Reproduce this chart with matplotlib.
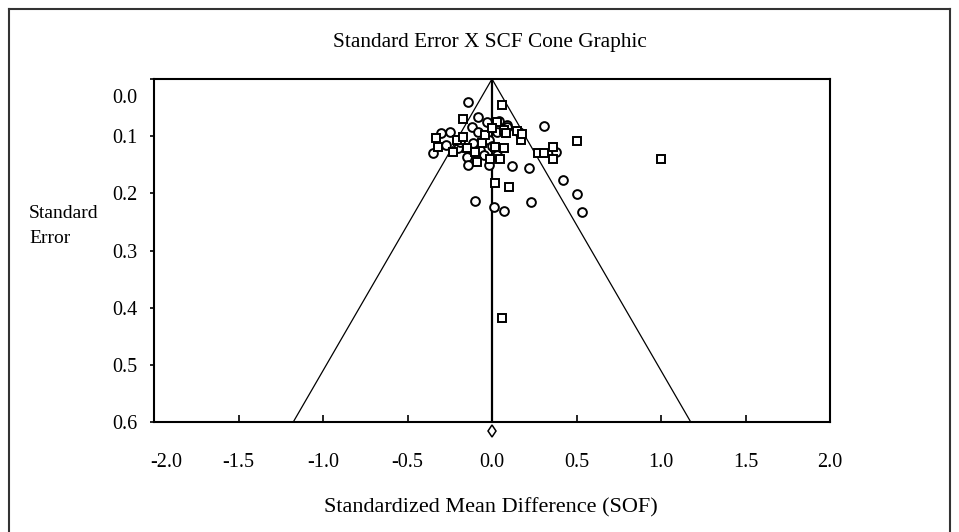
import matplotlib
matplotlib.use("Agg")
import matplotlib.pyplot as plt
from matplotlib.lines import Line2D
from matplotlib.transforms import ScaledTranslation
import numpy as np

plt.rcParams['font.family'] = ['Liberation Serif', 'DejaVu Serif']

title = "Standard Error X SCF Cone Graphic"
xlabel = "Standardized Mean Difference (SOF)"
ylabel = "Standard\nError"

# studies drawn as open circles (effect size, standard error)
circle_smd = [-0.14, -0.08, -0.03, 0.04, 0.09, 0.31, -0.30, -0.25, -0.12, -0.08,
              -0.11, -0.02, -0.27, -0.35, 0.03, 0.09, 0.16, 0.03, 0.38, -0.13,
              -0.15, -0.14, -0.02, 0.12, 0.22, 0.42, 0.50, -0.10, 0.01, 0.07,
              0.23, 0.53, -0.07, -0.05, -0.20, -0.19, 0.00]
circle_se = [0.040, 0.066, 0.075, 0.073, 0.080, 0.082, 0.094, 0.093, 0.084, 0.093,
             0.112, 0.107, 0.115, 0.129, 0.093, 0.084, 0.093, 0.133, 0.128, 0.138,
             0.136, 0.150, 0.150, 0.152, 0.156, 0.177, 0.201, 0.213, 0.224, 0.231,
             0.215, 0.233, 0.124, 0.133, 0.120, 0.110, 0.118]

# studies drawn as open squares (effect size, standard error)
square_smd = [0.06, -0.17, 0.07, 0.03, 0.50, 0.15, 0.17, -0.33, -0.21, -0.17,
              -0.04, -0.06, -0.32, -0.23, 0.08, 0.02, 0.07, 0.27, 0.31, 0.36,
              0.36, -0.09, 0.05, 0.02, 0.10, 0.06, 1.00, -0.15, 0.00, 0.18,
              -0.10, -0.01]
square_se = [0.045, 0.070, 0.089, 0.075, 0.108, 0.091, 0.107, 0.103, 0.107, 0.101,
             0.098, 0.112, 0.119, 0.128, 0.094, 0.119, 0.121, 0.129, 0.129, 0.119,
             0.140, 0.145, 0.140, 0.182, 0.189, 0.418, 0.140, 0.120, 0.086, 0.096,
             0.128, 0.140]

pooled_smd = [0.0]
pooled_se = [0.615]

cone_se = [0.0, 0.6]
z_crit = 1.96

xticks = [-2.0, -1.5, -1.0, -0.5, 0.0, 0.5, 1.0, 1.5, 2.0]
yticks = [0.0, 0.1, 0.2, 0.3, 0.4, 0.5, 0.6]

W, H = 959, 532
fig = plt.figure(figsize=(W / 100, H / 100), dpi=100)
ax = fig.add_axes([154 / W, 1 - 422 / H, (830 - 154) / W, (422 - 79) / H])

# cone
se_arr = np.array(cone_se)
ax.plot(-z_crit * se_arr, se_arr, color='black', lw=0.9)
ax.plot(z_crit * se_arr, se_arr, color='black', lw=0.9)
ax.plot([0, 0], cone_se, color='black', lw=1.6)

ax.plot(circle_smd, circle_se, linestyle='none', marker='o', ms=6.3,
        mfc='white', mec='black', mew=1.4)
ax.plot(square_smd, square_se, linestyle='none', marker='s', ms=5.5,
        mfc='white', mec='black', mew=1.4)
ax.plot(pooled_smd, pooled_se, linestyle='none', marker='d', ms=6.5,
        mfc='white', mec='black', mew=1.1, clip_on=False)

ax.set_xlim(-2.0, 2.0)
ax.set_ylim(0.6, 0.0)
ax.set_xticks(xticks)
ax.set_xticklabels([f"{v:.1f}" for v in xticks])
ax.set_yticks(yticks)
ax.set_yticklabels([f"{v:.1f}" for v in yticks])
ax.tick_params(axis='x', direction='in', length=5, width=1.2, pad=22,
               labelsize=14.5, top=False)
ax.tick_params(axis='y', direction='out', length=3, width=1.2, pad=9,
               labelsize=14.5)
for s in ax.spines.values():
    s.set_linewidth(1.5)

# shift the top y tick label down and the first x tick label right, as in the reference
lbl0 = ax.get_yticklabels()[0]
lbl0.set_transform(lbl0.get_transform() + ScaledTranslation(0, -12 / 72, fig.dpi_scale_trans))
xl0 = ax.get_xticklabels()[0]
xl0.set_transform(xl0.get_transform() + ScaledTranslation(9 / 72, 0, fig.dpi_scale_trans))

fig.text(490 / W, 1 - 42 / H, title, ha='center', va='center', fontsize=15.3)
fig.text(491 / W, 1 - 508 / H, xlabel, ha='center', va='center', fontsize=16)
fig.text(29 / W, 1 - 226 / H, ylabel, ha='left', va='center', fontsize=14,
         linespacing=1.55)

# outer frame
fr = dict(color='#333333', lw=1.5, transform=fig.transFigure)
fig.add_artist(Line2D([9 / W, 9 / W], [0, 1 - 9 / H], **fr))
fig.add_artist(Line2D([9 / W, 950 / W], [1 - 9 / H, 1 - 9 / H], **fr))
fig.add_artist(Line2D([950 / W, 950 / W], [0, 1 - 9 / H], **fr))

fig.savefig("out.png", dpi=100)
